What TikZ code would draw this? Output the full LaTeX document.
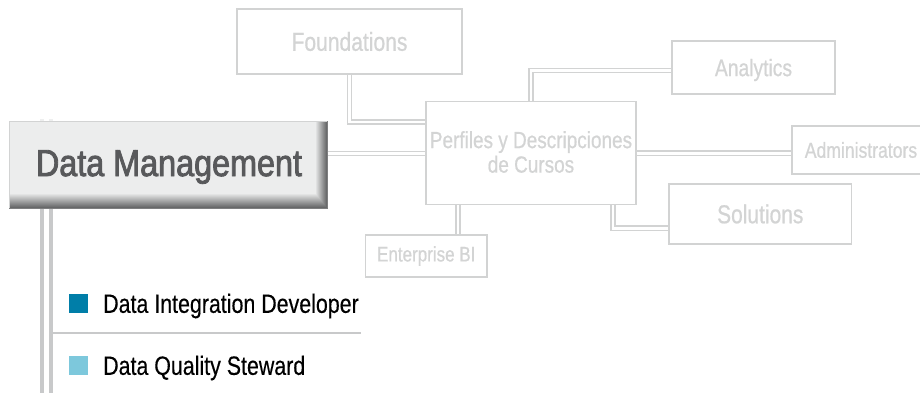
\documentclass[tikz,border=0pt]{standalone}
\usepackage{fontspec}
\setmainfont{Liberation Sans}
\newfontfamily\narrowf[FakeStretch=0.81,FakeBold=0.6]{Liberation Sans}
\newfontfamily\narrowi[FakeStretch=0.81,FakeBold=0.3]{Liberation Sans}
\newfontfamily\narrowb[FakeStretch=0.86,FakeBold=2.2]{Liberation Sans}
\usetikzlibrary{calc}
\definecolor{ghost}{HTML}{D3D4D4}
\definecolor{ghostline}{HTML}{D2D3D3}
\definecolor{trunk}{HTML}{C8C9CA}
\definecolor{dmface}{HTML}{ECEDED}
\definecolor{dmdark}{HTML}{5E5F60}
\definecolor{dmtext}{HTML}{58595B}
\definecolor{sqdark}{HTML}{007EA8}
\definecolor{sqlight}{HTML}{7DC8DC}
\tikzset{
  ghostbox/.style={draw=ghostline,line width=1.1pt,fill=white,text=ghost,align=center,inner sep=0pt,font=\narrowf},
  link/.style={draw=ghostline,line width=1.7pt,double=white,double distance=2.4pt},
  item/.style={anchor=west,inner sep=0pt,text=black,font=\narrowi\fontsize{26.4}{28}\selectfont},
  square/.style={inner sep=0pt,minimum width=19pt,minimum height=19pt},
}
\begin{document}
\begin{tikzpicture}[x=1pt,y=-1pt]
\useasboundingbox (0,0) rectangle (920,393);
\fill[white] (0,0) rectangle (920,393);
% trunk
\coordinate (tktop) at (46.5,208);
\coordinate (tkbot) at (46.5,393);
\draw[draw=trunk,line width=4.5pt,double=white,double distance=4.5pt] (tktop) -- (tkbot);
\draw[draw=trunk!30,line width=4.5pt,double=white,double distance=4.5pt] (46.5,119.5) -- (46.5,122);
% nodes
\node[ghostbox,minimum width=225pt,minimum height=65pt,font=\narrowf\fontsize{26}{28}\selectfont] (found) at (349.5,41.5) {Foundations};
\node[ghostbox,minimum width=210pt,minimum height=103.5pt] (perf) at (531,153) {};
\node[ghostbox,minimum width=163pt,minimum height=53pt,text depth=0pt,font=\narrowf\fontsize{23.8}{26}\selectfont] (anal) at (753.5,67.5) {Analytics};
\node[ghostbox,minimum width=138pt,minimum height=48pt,font=\narrowf\fontsize{21.7}{24}\selectfont] (admin) at (861,150) {Administrators};
\node[ghostbox,minimum width=182.5pt,minimum height=60pt,font=\narrowf\fontsize{25.9}{28}\selectfont] (sol) at (760.25,214) {Solutions};
\node[ghostbox,minimum width=121.5pt,minimum height=42pt,font=\narrowf\fontsize{21}{23}\selectfont] (ebi) at (426.25,256) {Enterprise BI};
% beveled box
\fill[dmface] (9,121.5) rectangle (327,208);
\shade[top color=dmface,bottom color=dmdark] (9,193) rectangle (327,208);
\shade[left color=dmface,right color=dmdark] (315,121.5) -- (327,121.5) -- (327,208) -- (315,193) -- cycle;
\draw[draw=ghostline,line width=.8pt] (9,208) -- (9,121.5) -- (327,121.5);
\draw[draw=dmdark!80,line width=.8pt] (9,208) -- (327,208) -- (327,121.5);
\node[inner sep=0pt,text=dmtext,font=\narrowb\fontsize{37.6}{40}\selectfont] (dm) at (169,167) {Data Management};
\coordinate (dme) at (327.5,153.5);
% perfil text
\node[text=ghost,align=center,inner sep=0pt,font=\narrowf\fontsize{23.4}{24.5}\selectfont] (perft) at (531,152) {Perfiles y Descripciones\\de Cursos};
% connectors
\draw[link] (dme) -- (dme -| perf.west);
\draw[link] (found.south) |- ([yshift=31pt]perf.west);
\draw[link] (perf.north) |- ([yshift=-3pt]anal.west);
\draw[link] (perf.east |- 0,153.3) -- (admin.west |- 0,153.3);
\draw[link] ([xshift=32pt]ebi.north) -- ([xshift=32pt]ebi.north |- perf.south);
\draw[link] ([xshift=82pt]perf.south) |- ([yshift=-14.3pt]sol.west);
% list
\node[square,fill=sqdark] (s1) at (78.5,303.5) {};
\node[square,fill=sqlight] (s2) at (78.5,365.5) {};
\node[item] (t1) at (103,306) {Data Integration Developer};
\node[item] (t2) at (103,368) {Data Quality Steward};
\coordinate (sepl) at (53,332.7);
\coordinate (sepr) at (361,332.7);
\draw[draw=trunk,line width=2.4pt] (sepl) -- (sepr);
\end{tikzpicture}
\end{document}
